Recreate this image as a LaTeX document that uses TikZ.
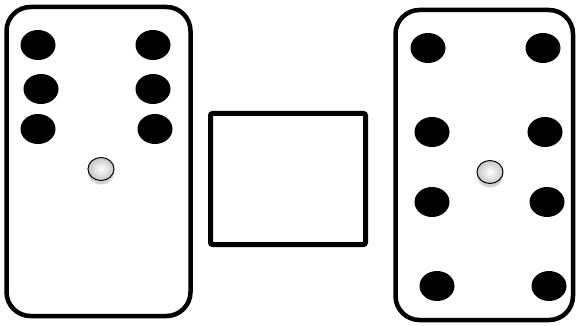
\documentclass[tikz,border=0pt]{standalone}
\usetikzlibrary{shadows,shapes.geometric}
\begin{document}
\begin{tikzpicture}[x=1pt,y=-1pt,
  board/.style={draw=black,line width=4.5pt,rounded corners=24pt,fill=white},
  hole/.style={fill=black,draw=none,ellipse,minimum width=35pt,minimum height=30pt,inner sep=0pt},
  pin/.style={ellipse,draw=black,line width=1pt,minimum width=26pt,minimum height=23pt,inner sep=0pt,
    inner color=white,outer color=gray!45,
    drop shadow={shadow xshift=0pt,shadow yshift=-4pt,opacity=0.35,fill=gray}},
  sq/.style={draw=black,line width=5pt,rounded corners=2pt,fill=white}]
\useasboundingbox (0,0) rectangle (578,326);
\fill[white] (0,0) rectangle (578,326);
% left board
\draw[board] (6.5,7) rectangle (190.5,316);
\node[hole] (l11) at (38,45) {};
\node[hole] (l12) at (153,45) {};
\node[hole] (l21) at (41,89) {};
\node[hole] (l22) at (153,89) {};
\node[hole] (l31) at (38,129) {};
\node[hole] (l32) at (155,129) {};
\node[pin] (lp) at (101,169) {};
% middle square
\draw[sq] (210.5,113.5) rectangle (365.5,244.5);
% right board
\draw[board] (395.5,10) rectangle (573,320);
\node[hole] (r11) at (428,48) {};
\node[hole] (r12) at (543,48) {};
\node[hole] (r21) at (432,132) {};
\node[hole] (r22) at (545,132) {};
\node[hole] (r31) at (432,202) {};
\node[hole] (r32) at (547,202) {};
\node[hole] (r41) at (437,286) {};
\node[hole] (r42) at (549,286) {};
\node[pin] (rp) at (490,172) {};
\end{tikzpicture}
\end{document}
